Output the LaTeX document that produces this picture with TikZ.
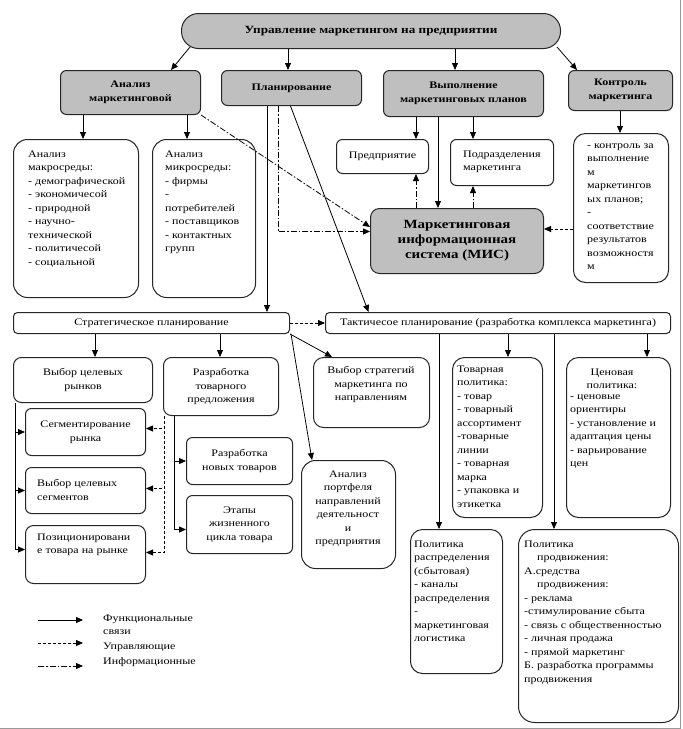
\documentclass[tikz,border=0pt]{standalone}
\usepackage{fontspec}
\setmainfont{Liberation Serif}[FakeStretch=1.2]
\usetikzlibrary{arrows.meta}
\begin{document}
\begin{tikzpicture}[x=1pt,y=-1pt,
  box/.style={draw=black!85, line width=1pt, fill=white, anchor=north west, inner sep=0pt, rounded corners=6pt, align=center, font=\fontsize{10}{13.5}\selectfont},
  gbox/.style={box, fill=black!25, font=\bfseries\fontsize{10}{14}\selectfont},
  txt/.style={font=\fontsize{10}{13.5}\selectfont, inner sep=0pt, align=left},
  arr/.style={-{Triangle[length=7pt,width=6pt]}, line width=0.8pt},
  dsh/.style={dash pattern=on 3pt off 2pt},
  dd/.style={dash pattern=on 6pt off 2pt on 1.5pt off 2pt}
]
\useasboundingbox (0,0) rectangle (683,729);
\draw[black!40, line width=0.8pt] (680,0) -- (680,728) -- (0,728);

% top row
\node[gbox, minimum width=379pt, minimum height=35pt, rounded corners=17pt, font=\bfseries\fontsize{11}{13}\selectfont] (top) at (181,13) {Управление маркетингом на предприятии};
\node[gbox, minimum width=140pt, minimum height=44pt] (anal) at (60,70) {Анализ\\маркетинговой};
\node[gbox, minimum width=140pt, minimum height=35pt] (plan) at (221,70) {Планирование};
\node[gbox, minimum width=160pt, minimum height=46pt] (vyp) at (383,70) {Выполнение\\маркетинговых планов};
\node[gbox, minimum width=104pt, minimum height=40pt] (kontr) at (568,70) {Контроль\\маркетинга};

% third row
\node[box, minimum width=125pt, minimum height=158pt, rounded corners=14pt] (macro) at (13,139) {};
\node[txt, anchor=north west] (macrot) at (28,150.5) {Анализ\\макросреды:\\- демографической\\- экономичесой\\- природной\\- научно-\\технической\\- политичесой\\- социальной};
\node[box, minimum width=103pt, minimum height=158pt, rounded corners=14pt] (micro) at (152,139) {};
\node[txt, anchor=north west] (microt) at (165,150.5) {Анализ\\микросреды:\\- фирмы\\-\\потребителей\\- поставщиков\\- контактных\\групп};
\node[box, minimum width=92pt, minimum height=34pt] (pred) at (336,139) {Предприятие};
\node[box, minimum width=103pt, minimum height=46pt] (podr) at (450,139) {};
\node[txt, anchor=west] (podrt) at (463,162) {Подразделения\\маркетинга};
\node[box, minimum width=95pt, minimum height=149pt, rounded corners=12pt] (ctrl) at (573,133) {};
\node[txt, anchor=north west] (ctrlt) at (587,143.5) {- контроль за\\выполнение\\м\\маркетингов\\ых планов;\\-\\соответствие\\результатов\\возможностя\\м};
\node[gbox, minimum width=173pt, minimum height=65pt, rounded corners=9pt, font=\bfseries\fontsize{12.5}{15}\selectfont] (mis) at (370,208) {Маркетинговая\\информационная\\система (МИС)};

% planning row
\node[box, minimum width=276pt, minimum height=21pt, rounded corners=4pt] (strat) at (13,312) {Стратегическое планирование};
\node[box, minimum width=345pt, minimum height=21pt, rounded corners=4pt] (tact) at (325,312) {Тактичесое планирование (разработка комплекса маркетинга)};

% strategic children
\node[box, minimum width=139pt, minimum height=45pt, rounded corners=8pt] (vybr) at (13,357) {Выбор целевых\\рынков};
\node[box, minimum width=115pt, minimum height=58pt, rounded corners=8pt] (razr) at (163,357) {Разработка\\товарного\\предложения};
\node[box, minimum width=116pt, minimum height=70pt, rounded corners=10pt] (strg) at (313,357) {};
\node[txt, anchor=north, align=center] (strgt) at (371,366.5) {Выбор стратегий\\маркетинга по\\направлениям};
\node[box, minimum width=120pt, minimum height=47pt] (segm) at (25,408) {Сегментирование\\рынка};
\node[box, minimum width=120pt, minimum height=46pt] (vybs) at (25,467) {};
\node[txt, anchor=west] (vybst) at (37,490) {Выбор целевых\\сегментов};
\node[box, minimum width=120pt, minimum height=58pt, rounded corners=8pt] (pozi) at (25,525) {};
\node[txt, anchor=north west] (pozit) at (37,533.5) {Позиционировани\\е товара на рынке};
\node[box, minimum width=106pt, minimum height=47pt] (novt) at (186,437) {Разработка\\новых товаров};
\node[box, minimum width=106pt, minimum height=58pt] (etap) at (186,495) {Этапы\\жизненного\\цикла товара};
\node[box, minimum width=94pt, minimum height=108pt, rounded corners=14pt] (port) at (301,460) {};
\node[txt, anchor=north, align=center] (portt) at (348,470.5) {Анализ\\портфеля\\направлений\\деятельност\\и\\предприятия};

% tactical children
\node[box, minimum width=90pt, minimum height=160pt, rounded corners=12pt] (tovr) at (452,357) {};
\node[txt, anchor=north west] (tovrt) at (457,365.5) {Товарная\\политика:\\- товар\\- товарный\\ассортимент\\-товарные\\линии\\- товарная\\марка\\- упаковка и\\этикетка};
\node[box, minimum width=104pt, minimum height=160pt, rounded corners=12pt] (cena) at (566,357) {};
\node[txt, anchor=north, align=center] (cenat1) at (612,368.5) {Ценовая\\политика:};
\node[txt, anchor=north west] (cenat2) at (570,394.5) {- ценовые\\ориентиры\\- установление и\\адаптация цены\\- варьирование\\цен};
\node[box, minimum width=92pt, minimum height=144pt, rounded corners=12pt] (dist) at (410,529) {};
\node[txt, anchor=north west] (distt) at (414,540.5) {Политика\\распределения\\(сбытовая)\\- каналы\\распределения\\-\\маркетинговая\\логистика};
\node[box, minimum width=160pt, minimum height=193pt, rounded corners=16pt] (prom) at (518,529) {};
\node[txt, anchor=north west] (promt) at (524,540.5) {Политика\\\hspace*{13pt}продвижения:\\А.средства\\\hspace*{13pt}продвижения:\\- реклама\\-стимулирование сбыта\\- связь с общественностью\\- личная продажа\\- прямой маркетинг\\Б. разработка программы\\продвижения};

% connectors: top level
\draw[arr] ([xshift=9pt,yshift=2pt]top.south west) -- ([xshift=-30pt]anal.north east);
\draw[arr] (288,0 |- top.south) -- (288,0 |- plan.north);
\draw[arr] (455,0 |- top.south) -- (455,0 |- vyp.north);
\draw[arr] ([xshift=-4pt,yshift=2pt]top.south east) -- ([xshift=9pt]kontr.north west);
\draw[arr] (83,0 |- anal.south) -- (83,0 |- macro.north);
\draw[arr] (187,0 |- anal.south) -- (187,0 |- micro.north);
\draw[arr] (620,0 |- kontr.south) -- (620,0 |- ctrl.north);
\draw[arr] (416,0 |- vyp.south) -- (416,0 |- pred.north);
\draw[arr] (438,0 |- vyp.south) -- (438,0 |- mis.north);
\draw[arr] (473,0 |- vyp.south) -- (473,0 |- podr.north);
\draw[arr] (267,0 |- plan.south) -- (267,0 |- strat.north);
\draw[arr] ([xshift=-1pt]plan.south) -- ([xshift=-129.5pt]tact.north);

% information links
\draw[arr, dd] (anal.south east) -- ([yshift=14pt]mis.west);
\draw[arr, dd] (278,0 |- plan.south) |- ([yshift=9.5pt]mis.west);
\draw[arr, dd] (416,0 |- mis.north) -- (416,0 |- pred.south);
\draw[arr, dd] (473,0 |- mis.north) -- (473,0 |- podr.south);
\draw[arr, dsh] (ctrl.west |- 0,229) -- (mis.east |- 0,229);

% planning level
\draw[arr, dsh] (strat.east) -- (tact.west);
\draw[arr] (95,0 |- strat.south) -- (95,0 |- vybr.north);
\draw[arr] (220,0 |- strat.south) -- (220,0 |- razr.north);
\draw[arr] (strat.south east) -- ([xshift=19pt]strg.north west);
\draw[arr] ([xshift=1pt]strat.south east) -- ([xshift=11pt]port.north west);
\draw[arr] (15,0 |- vybr.south) |- (segm.west);
\draw[arr] (15,0 |- vybr.south) |- (vybs.west);
\draw[arr] (15,0 |- vybr.south) |- ([yshift=5pt]pozi.west);
\draw[arr, dsh] (164,0 |- razr.south) |- ([yshift=3.5pt]segm.east);
\draw[arr, dsh] (164,0 |- razr.south) |- ([yshift=2pt]vybs.east);
\draw[arr, dsh] (164,0 |- razr.south) |- ([yshift=2pt]pozi.east);
\draw[arr] (174,0 |- razr.south) |- (novt.west);
\draw[arr] (174,0 |- razr.south) |- ([yshift=-5pt]etap.west);
\draw[arr] (439,0 |- tact.south) -- (439,0 |- dist.north);
\draw[arr] (554,0 |- tact.south) -- (554,0 |- prom.north);
\draw[arr] (508,0 |- tact.south) -- (508,0 |- tovr.north);
\draw[arr] (647,0 |- tact.south) -- (647,0 |- cena.north);

% legend
\coordinate (l1a) at (38,620); \coordinate (l1b) at (83,620);
\coordinate (l2a) at (38,643); \coordinate (l2b) at (83,643);
\coordinate (l3a) at (38,666); \coordinate (l3b) at (83,666);
\draw[arr] (l1a) -- (l1b);
\draw[arr, dsh] (l2a) -- (l2b);
\draw[arr, dd] (l3a) -- (l3b);
\node[txt, anchor=north west] (lg1) at (103,614.5) {Функциональные\\связи};
\node[txt, anchor=west] (lg2) at (103,647) {Управляющие};
\node[txt, anchor=west] (lg3) at (103,662) {Информационные};
\end{tikzpicture}
\end{document}
